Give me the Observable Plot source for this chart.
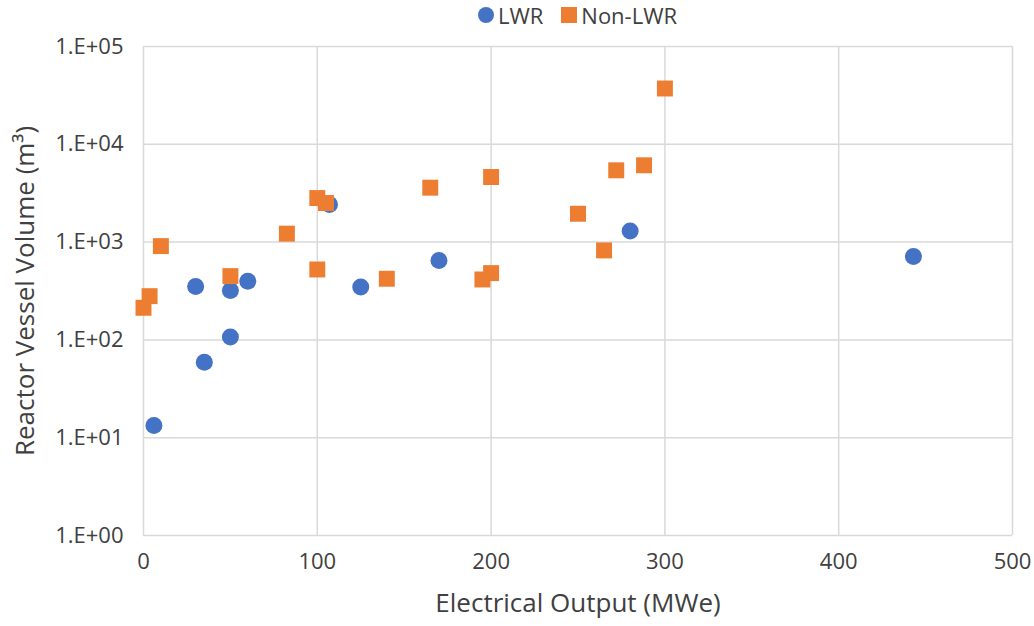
<!DOCTYPE html>
<html>
<head>
<meta charset="utf-8">
<script src="https://cdn.jsdelivr.net/npm/d3@7"></script>
<script src="https://cdn.jsdelivr.net/npm/@observablehq/plot@0.6"></script>
<style>
  html, body { margin: 0; padding: 0; background: #fff; }
  body { width: 1034px; height: 626px; overflow: hidden; font-family: "Open Sans", sans-serif; }
  #legend { height: 30px; box-sizing: border-box; padding: 0 22px 0 143px; display: flex; justify-content: center; align-items: center; gap: 18px; font-size: 22px; color: #404040; }
  #legend span.item { display: flex; align-items: center; gap: 4px; }
  #legend .sw { display: inline-block; width: 16px; height: 16px; }
</style>
</head>
<body>
<div id="legend"></div>
<div id="chart"></div>
<script>
const seriesNames = ["LWR", "Non-LWR"];
const seriesColors = ["#4472C4", "#ED7D31"];

const lwrOutput = [6, 30, 35, 50, 50, 60, 107, 125, 170, 280, 443];
const lwrVolume = [13.3, 352, 59, 320, 107, 398, 2430, 347, 650, 1300, 714];

const nonLwrOutput = [0, 3.5, 10, 50, 82.5, 100, 105, 100, 140, 165, 200, 195, 200, 250, 265, 272, 288, 300];
const nonLwrVolume = [213, 280, 910, 449, 1220, 2820, 2510, 525, 422, 3600, 4630, 415, 482, 1950, 822, 5420, 6100, 37200];

const xTicks = [0, 100, 200, 300, 400, 500];
const yTicks = [1, 10, 100, 1000, 10000, 100000];
const yTickLabels = ["1.E+00", "1.E+01", "1.E+02", "1.E+03", "1.E+04", "1.E+05"];

const lwr = lwrOutput.map((x, i) => ({x, y: lwrVolume[i], s: seriesNames[0]}));
const nonLwr = nonLwrOutput.map((x, i) => ({x, y: nonLwrVolume[i], s: seriesNames[1]}));

// legend
const legend = document.getElementById("legend");
seriesNames.forEach((n, i) => {
  const item = document.createElement("span");
  item.className = "item";
  const sw = document.createElement("span");
  sw.className = "sw";
  sw.style.background = seriesColors[i];
  if (i === 0) sw.style.borderRadius = "50%";
  item.appendChild(sw);
  item.appendChild(document.createTextNode(n));
  legend.appendChild(item);
});

const textColor = "#404040";
const chart = Plot.plot({
  width: 1034,
  height: 596,
  marginLeft: 143,
  marginRight: 22,
  marginTop: 16,
  marginBottom: 91,
  style: { fontFamily: '"Open Sans", sans-serif', color: textColor, background: "#fff" },
  x: { domain: [0, 500], label: null },
  y: { type: "log", domain: [1, 100000], label: null },
  marks: [
    Plot.gridX(xTicks, { stroke: "#d9d9d9", strokeOpacity: 1, strokeWidth: 1.5 }),
    Plot.gridY(yTicks, { stroke: "#d9d9d9", strokeOpacity: 1, strokeWidth: 1.5 }),
    Plot.axisX({ ticks: xTicks, tickSize: 0, tickPadding: 18, fontSize: 22, label: null, tickFormat: d => String(d) }),
    Plot.axisY({ ticks: yTicks, tickSize: 0, tickPadding: 20, fontSize: 22, label: null, tickFormat: d => yTickLabels[yTicks.indexOf(d)] }),
    Plot.axisX({ ticks: [], label: "Electrical Output (MWe)", labelArrow: "none", labelAnchor: "center", labelOffset: 76, fontSize: 26, dx: 8 }),
    Plot.axisY({ ticks: [], label: "Reactor Vessel Volume (m³)", labelArrow: "none", labelAnchor: "center", labelOffset: 128, fontSize: 26 }),
    Plot.dot(lwr, { x: "x", y: "y", r: 8.5, fill: seriesColors[0], stroke: "none" }),
    Plot.dot(nonLwr, { x: "x", y: "y", r: 9, symbol: "square", fill: seriesColors[1], stroke: "none" })
  ]
});
document.getElementById("chart").appendChild(chart);
</script>
</body>
</html>
